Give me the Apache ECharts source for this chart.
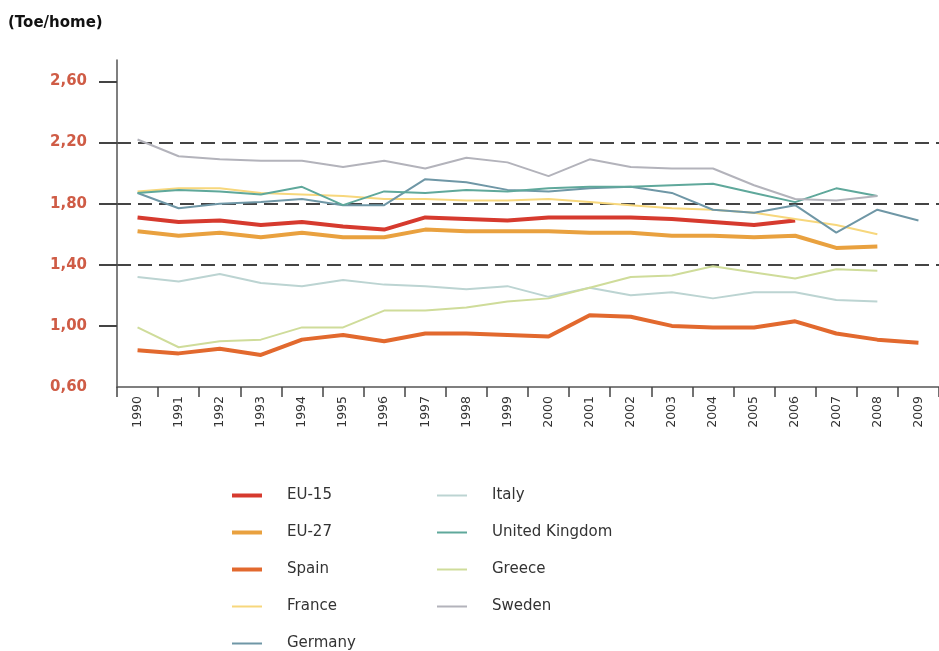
<!DOCTYPE html>
<html>
<head>
<meta charset="utf-8">
<title>Toe/home</title>
<script src="https://cdn.jsdelivr.net/npm/echarts@6/dist/echarts.min.js"></script>
<style>
  html, body { margin: 0; padding: 0; background: #fff; }
  #chart { width: 939px; height: 651px; }
</style>
</head>
<body>
<div id="chart"></div>
<script>
// data (toe per home)
const years = ['1990', '1991', '1992', '1993', '1994', '1995', '1996', '1997', '1998', '1999',
  '2000', '2001', '2002', '2003', '2004', '2005', '2006', '2007', '2008', '2009']
const yTicks = [0.6, 1.0, 1.4, 1.8, 2.2, 2.6]

const eu15 = [1.71, 1.68, 1.69, 1.66, 1.68, 1.65, 1.63, 1.71, 1.70, 1.69, 1.71, 1.71, 1.71, 1.70, 1.68, 1.66, 1.69, null, null, null]
const eu27 = [1.62, 1.59, 1.61, 1.58, 1.61, 1.58, 1.58, 1.63, 1.62, 1.62, 1.62, 1.61, 1.61, 1.59, 1.59, 1.58, 1.59, 1.51, 1.52, null]
const spain = [0.84, 0.82, 0.85, 0.81, 0.91, 0.94, 0.90, 0.95, 0.95, 0.94, 0.93, 1.07, 1.06, 1.00, 0.99, 0.99, 1.03, 0.95, 0.91, 0.89]
const france = [1.88, 1.90, 1.90, 1.87, 1.86, 1.85, 1.83, 1.83, 1.82, 1.82, 1.83, 1.81, 1.79, 1.77, 1.76, 1.74, 1.70, 1.66, 1.60, null]
const germany = [1.87, 1.77, 1.80, 1.81, 1.83, 1.79, 1.79, 1.96, 1.94, 1.89, 1.88, 1.90, 1.91, 1.87, 1.76, 1.74, 1.79, 1.61, 1.76, 1.69]
const italy = [1.32, 1.29, 1.34, 1.28, 1.26, 1.30, 1.27, 1.26, 1.24, 1.26, 1.19, 1.25, 1.20, 1.22, 1.18, 1.22, 1.22, 1.17, 1.16, null]
const uk = [1.87, 1.89, 1.88, 1.86, 1.91, 1.79, 1.88, 1.87, 1.89, 1.88, 1.90, 1.91, 1.91, 1.92, 1.93, 1.87, 1.81, 1.90, 1.85, null]
const greece = [0.99, 0.86, 0.90, 0.91, 0.99, 0.99, 1.10, 1.10, 1.12, 1.16, 1.18, 1.25, 1.32, 1.33, 1.39, 1.35, 1.31, 1.37, 1.36, null]
const sweden = [2.22, 2.11, 2.09, 2.08, 2.08, 2.04, 2.08, 2.03, 2.10, 2.07, 1.98, 2.09, 2.04, 2.03, 2.03, 1.92, 1.83, 1.82, 1.85, null]

// legend columns
const legendLeft = ['EU-15', 'EU-27', 'Spain', 'France', 'Germany']
const legendRight = ['Italy', 'United Kingdom', 'Greece', 'Sweden']
const thick = ['EU-15', 'EU-27', 'Spain']

const chart = echarts.init(document.getElementById('chart'))

function line(name, data, color) {
  const w = thick.includes(name) ? 4 : 2
  return {
    name: name,
    type: 'line',
    data: data,
    symbol: 'none',
    color: color,
    lineStyle: { color: color, width: w },
    emphasis: { disabled: true }
  }
}

// one legend per entry so each row sits where it does in the picture
function legendItem(name, left, row) {
  return {
    data: [name],
    left: left,
    top: 488 + row * 37,
    icon: 'rect',
    itemWidth: 30,
    itemHeight: thick.includes(name) ? 4 : 2,
    padding: 0,
    selectedMode: false,
    textStyle: {
      color: '#333',
      fontSize: 15,
      fontFamily: 'DejaVu Sans',
      padding: [0, 0, 0, 20]
    }
  }
}

const legends = legendLeft.map((n, i) => legendItem(n, 232, i))
  .concat(legendRight.map((n, i) => legendItem(n, 437, i)))

const option = {
  backgroundColor: '#fff',
  animation: false,
  title: {
    text: '(Toe/home)',
    left: 3,
    top: 11,
    textStyle: { fontSize: 15, fontWeight: 'bold', color: '#111', fontFamily: 'DejaVu Sans' }
  },
  grid: { left: 117, top: 60, width: 826, bottom: 264 },
  legend: legends,
  xAxis: {
    type: 'category',
    data: years,
    boundaryGap: true,
    axisLine: { lineStyle: { color: '#555', width: 1.5 } },
    axisTick: { show: true, length: 10, lineStyle: { color: '#444', width: 1.5 } },
    axisLabel: { rotate: 90, color: '#333', fontSize: 12.5, margin: 9, fontFamily: 'DejaVu Sans' },
    splitLine: { show: false }
  },
  yAxis: {
    type: 'value',
    min: 0.6,
    max: 2.74,
    interval: 0.4,
    axisLine: { show: true, lineStyle: { color: '#555', width: 1.5 } },
    axisTick: {
      show: true,
      length: 18,
      customValues: yTicks.slice(1),
      lineStyle: { color: '#444', width: 2 }
    },
    axisLabel: {
      customValues: yTicks,
      color: '#cf5c46',
      fontSize: 15,
      fontWeight: 'bold',
      margin: 30,
      fontFamily: 'DejaVu Sans',
      formatter: v => v.toFixed(2).replace('.', ',')
    },
    splitLine: {
      show: true,
      showMinLine: false,
      showMaxLine: false,
      lineStyle: { color: '#444', width: 2, type: [14, 7] }
    }
  },
  series: [
    line('EU-15', eu15, '#d63a2e'),
    line('EU-27', eu27, '#e9a13f'),
    line('Spain', spain, '#e2692e'),
    line('France', france, '#f7d77c'),
    line('Germany', germany, '#6f97a6'),
    line('Italy', italy, '#bcd4d2'),
    line('United Kingdom', uk, '#5fa89b'),
    line('Greece', greece, '#cfdc9a'),
    line('Sweden', sweden, '#b3b3bb')
  ]
}

chart.setOption(option)
</script>
</body>
</html>
